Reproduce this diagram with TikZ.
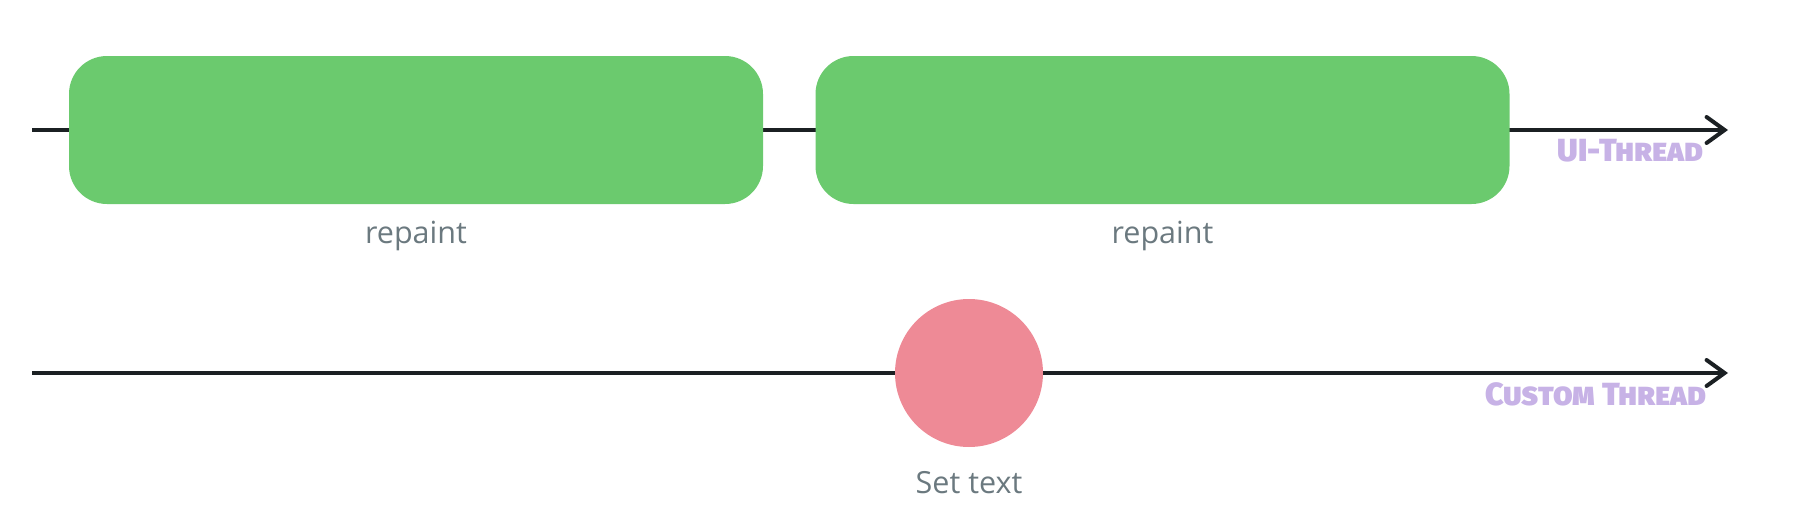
\documentclass[tikz,border=0pt]{standalone}
\usepackage{fontspec}
\setmainfont{Open Sans}
\newfontfamily\handfont[Letters=SmallCaps]{Fira Sans Black}
\usetikzlibrary{arrows.meta}
\definecolor{linec}{HTML}{1B2023}
\definecolor{boxgreen}{HTML}{6BCA6E}
\definecolor{dotpink}{HTML}{EE8A96}
\definecolor{labgray}{HTML}{6B797F}
\definecolor{lav}{HTML}{C7B2E6}
\tikzset{
  timeline/.style={line width=4pt, color=linec, -{Straight Barb[length=18pt,width=26pt,line width=4pt,line cap=round]}},
  taskbox/.style={fill=boxgreen, rounded corners=38pt, minimum width=694pt, minimum height=148pt, inner sep=0pt},
  eventdot/.style={circle, fill=dotpink, minimum size=148pt, inner sep=0pt},
  caption/.style={font=\fontsize{30.5pt}{36pt}\selectfont, text=labgray, inner sep=0pt},
  threadlab/.style={font=\handfont\fontsize{32pt}{36pt}\selectfont, text=lav, inner sep=0pt, anchor=east},
}
\begin{document}
\begin{tikzpicture}[x=1pt,y=-1pt]
\useasboundingbox (0,0) rectangle (1800,530);
% UI thread
\coordinate (uistart) at (32,130);
\coordinate (uiend) at (1728,130);
\draw[timeline] (uistart) -- (uiend);
\node[taskbox] (box1) at (416,130) {};
\node[taskbox] (box2) at (1162.5,130) {};
\node[caption, anchor=base] (lab1) at (416,243) {repaint};
\node[caption, anchor=base] (lab2) at (1162.5,243) {repaint};
\node[threadlab, anchor=base east] (uilab) at (1704,161) {UI-Thread};
% custom thread
\coordinate (cstart) at (32,373);
\coordinate (cend) at (1728,373);
\draw[timeline] (cstart) -- (cend);
\node[eventdot] (dot) at (969,373) {};
\node[caption, anchor=base] (lab3) at (969,493) {Set text};
\node[threadlab, anchor=base east] (clab) at (1707,405) {Custom Thread};
\end{tikzpicture}
\end{document}
